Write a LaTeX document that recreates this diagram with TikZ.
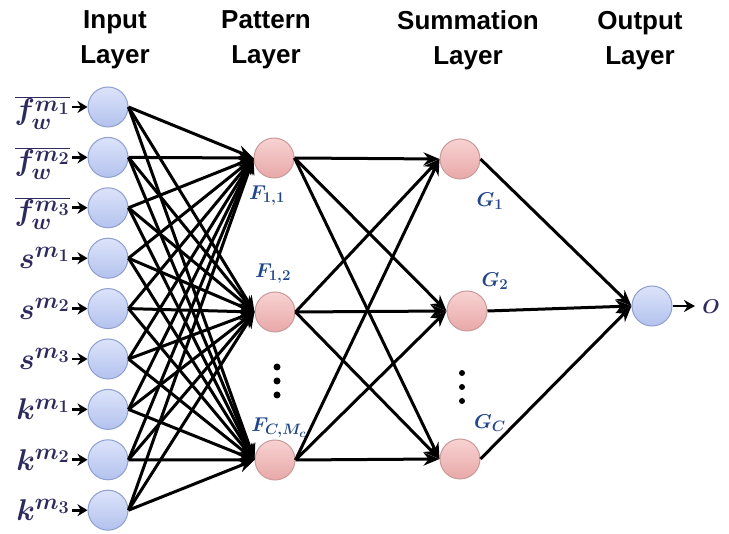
\RequirePackage{fix-cm}
\documentclass[tikz,border=0pt]{standalone}
\usepackage{fontspec}
\newfontfamily\hdrfont{Liberation Sans}
\usetikzlibrary{arrows.meta}
\DeclareMathSizes{30}{30}{23}{18}
\DeclareMathSizes{20}{20}{15}{12}
\definecolor{inpb}{HTML}{8E9FD0}
\definecolor{inpt}{HTML}{DCE3FA}
\definecolor{inpbo}{HTML}{B3C2EE}
\definecolor{patb}{HTML}{C99A9A}
\definecolor{patt}{HTML}{F8D2D2}
\definecolor{patbo}{HTML}{E8A8A8}
\definecolor{labc}{HTML}{2D2A5C}
\definecolor{flabc}{HTML}{22468A}
\begin{document}
\begin{tikzpicture}[x=1pt,y=-1pt,
  inp/.style={circle,minimum size=40pt,inner sep=0pt,draw=inpb,line width=1pt,top color=inpt,bottom color=inpbo},
  pat/.style={circle,minimum size=40pt,inner sep=0pt,draw=patb,line width=1pt,top color=patt,bottom color=patbo},
  conn/.style={line width=3pt,-{Stealth[length=16pt,width=13pt]}},
  small/.style={line width=2.8pt,-{Stealth[length=10pt,width=12pt]}},
  hdr/.style={font=\hdrfont\bfseries\fontsize{26}{35}\selectfont,align=center,inner sep=0pt},
  inlab/.style={anchor=east,inner sep=0pt,text=labc,font=\fontsize{30}{34}\selectfont\boldmath},
  flab/.style={text=flabc,font=\fontsize{20}{22}\selectfont\boldmath,inner sep=0pt},
  dotc/.style={circle,fill=black,inner sep=0pt,minimum size=7pt}]
\useasboundingbox (0,0) rectangle (729,534);
% headers
\node[hdr] (h1) at (115,40) {Input\\Layer};
\node[hdr] (h2) at (266,40) {Pattern\\Layer};
\node[hdr] (h3) at (468,40) {Summation\\Layer};
\node[hdr] (h4) at (640,41) {Output\\Layer};
% input layer
\foreach \i/\lab/\dy in {0/{\overline{f^{m_1}_{w}}}/6,1/{\overline{f^{m_2}_{w}}}/6,2/{\overline{f^{m_3}_{w}}}/6,
  3/{s^{m_1}}/0,4/{s^{m_2}}/0,5/{s^{m_3}}/0,6/{k^{m_1}}/0,7/{k^{m_2}}/0,8/{k^{m_3}}/0}{
  \node[inp] (I\i) at (108,107+50.4*\i) {};
  \node[inlab] (L\i) at (70,107+50.4*\i+\dy) {$\lab$};
  \coordinate (a\i) at (72,107+50.4*\i);
  \draw[small] (a\i) -- (I\i.west);
}
% pattern layer
\node[pat] (F1) at (274,158) {};
\node[pat] (F2) at (275,312) {};
\node[pat] (F3) at (275,460) {};
\node[flab] (lF1) at (267,196) {$F_{1,1}$};
\node[flab] (lF2) at (273,274) {$F_{1,2}$};
\node[flab] (lF3) at (279,428) {$F_{C,M_c}$};
\node[dotc] (d1) at (277,367) {};
\node[dotc] (d2) at (277,381) {};
\node[dotc] (d3) at (277,395) {};
% summation layer
\node[pat] (G1) at (460,159) {};
\node[pat] (G2) at (467,311) {};
\node[pat] (G3) at (460,459) {};
\node[flab] (lG1) at (490,201) {$G_1$};
\node[flab] (lG2) at (495,281) {$G_2$};
\node[flab] (lG3) at (490,423) {$G_C$};
\node[dotc,minimum size=6pt] (e1) at (462,373) {};
\node[dotc,minimum size=6pt] (e2) at (462,387) {};
\node[dotc,minimum size=6pt] (e3) at (462,401) {};
% output layer
\node[inp] (O) at (652,306) {};
\coordinate (oend) at (695,306);
\node[flab,text=labc] (lO) at (711,307) {$O$};
% connections
\foreach \i in {0,...,8}{
  \foreach \j in {1,2,3}{
    \draw[conn] (I\i.east) -- (F\j.west);
  }
}
\foreach \j in {1,2,3}{
  \foreach \k in {1,2,3}{
    \draw[conn] (F\j.east) -- (G\k.west);
  }
}
\foreach \k in {1,2,3}{
  \draw[conn] (G\k.east) -- (O.west);
}
\draw[line width=2.8pt,-{Stealth[length=11pt,width=12pt]}] (O.east) -- (oend);
\end{tikzpicture}
\end{document}
